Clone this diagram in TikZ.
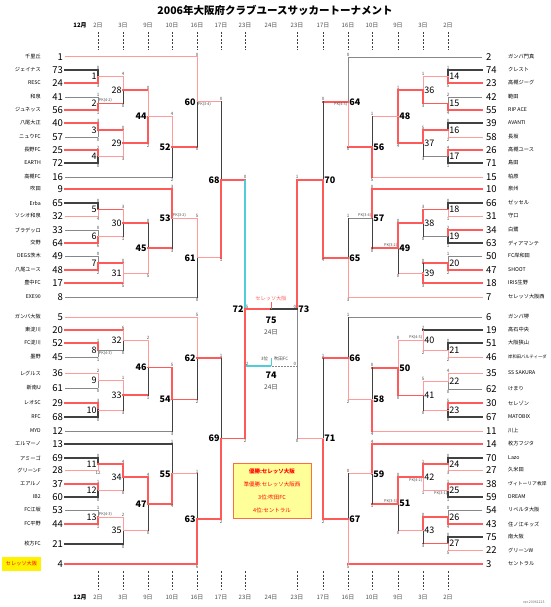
\documentclass[tikz,border=0pt]{standalone}
\usepackage{fontspec}
\setmainfont{Noto Sans CJK JP}
\usepackage{tikz}
\usetikzlibrary{positioning}

\definecolor{winred}{RGB}{255,90,90}
\definecolor{winpink}{RGB}{255,155,155}
\definecolor{losegray}{RGB}{135,135,135}
\definecolor{losedark}{RGB}{65,65,65}
\definecolor{thirdcyan}{RGB}{80,205,215}
\definecolor{boxfill}{RGB}{255,255,153}
\definecolor{boxedge}{RGB}{255,110,60}

\begin{document}
\begin{tikzpicture}[
    x=1pt, y=-1pt,
    redline/.style={draw=winred, line width=1.6pt, line cap=rect},
    pinkline/.style={draw=winpink, line width=1pt, line cap=rect},
    grayline/.style={draw=losegray, line width=0.9pt, line cap=rect},
    darkline/.style={draw=losedark, line width=1.6pt, line cap=rect},
    vdark/.style={draw=losedark, line width=1pt, line cap=rect},
    cyanline/.style={draw=thirdcyan, line width=1.1pt},
    dateline/.style={draw=black!75, dash pattern=on 2pt off 1.5pt, line width=0.6pt},
    datelbl/.style={font=\fontsize{6}{6}\selectfont, text=black!70, inner sep=0pt},
    teamname/.style={font=\fontsize{5.2}{6}\selectfont, inner sep=0pt},
    seed/.style={font=\fontsize{9.5}{10}\selectfont, inner sep=0pt},
    lnum/.style={font=\fontsize{9}{9}\selectfont, anchor=east, inner sep=1.2pt},
    rnum/.style={font=\fontsize{9}{9}\selectfont, anchor=west, inner sep=1.2pt},
    lnumb/.style={lnum, font=\fontsize{9}{9}\selectfont\bfseries},
    rnumb/.style={rnum, font=\fontsize{9}{9}\selectfont\bfseries},
    score/.style={font=\fontsize{4.5}{5}\selectfont, text=black!70, inner sep=0.7pt},
    pk/.style={font=\fontsize{3.8}{4}\selectfont, text=black!70, inner sep=0.7pt}
]
\useasboundingbox (0,0) rectangle (550,607);

% Title and dates
\node[font=\fontsize{10.5}{11}\selectfont\bfseries] (title) at (275,10) {2006年大阪府クラブユースサッカートーナメント};
\node[datelbl, text=black, font=\fontsize{6}{6}\selectfont\bfseries] (montop) at (80,25) {12月};
\node[datelbl, text=black, font=\fontsize{6}{6}\selectfont\bfseries] (monbot) at (80,597) {12月};
\foreach \x/\d in {98/2日, 123/3日, 148/9日, 172/10日, 197/16日, 221/17日, 245/23日,
                   297/23日, 323/17日, 348/16日, 372/10日, 398/9日, 423/3日, 448/2日}{
  \node[datelbl] (dt\x) at (\x,25) {\d};
  \node[datelbl] (db\x) at (\x,597) {\d};
  \draw[dateline] (\x,32) -- (\x,50);
  \draw[dateline] (\x,571) -- (\x,589);
}
\node[datelbl] (dt271) at (271,25) {24日};
\node[datelbl] (db271) at (271,597) {24日};
\node[font=\fontsize{3.5}{4}\selectfont, text=black!60, anchor=east] (ver) at (548,602) {ver.20061223};

% Columns
\foreach \c/\x in {L1/98, L2/123, L3/148, L4/172, L5/197, L6/221, L7/245,
                   R7/297, R6/323, R5/348, R4/372, R3/398, R2/423, R1/448}
  \coordinate (\c) at (\x,0);

% Left teams
\foreach \s/\y/\tn in {1/57/千里丘, 73/70/ジェイナス, 24/83/RESC, 41/97/和泉, 56/110/ジュネッス,
    40/123/八尾大正, 57/137/ニュウFC, 25/150/長野FC, 72/163/EARTH, 16/177/高槻FC, 9/189/吹田,
    65/203/Erba, 32/216/ソシオ和泉, 33/230/ブラデッロ, 64/243/交野, 49/256/DEGS茨木,
    48/270/八尾ユース, 17/283/豊中FC, 8/297/EXE90, 5/317/ガンバ大阪, 20/330/東淀川,
    52/343/FC淀川, 45/357/墨野, 36/373/レグルス, 61/388/新南U, 29/403/レオSC, 68/417/RFC,
    12/431/MYD, 13/444/エルマーノ, 69/458/アミーゴ, 28/470/グリーンF, 37/484/エアルノ,
    60/497/IB2, 53/510/FC江坂, 44/524/FC平野, 21/544/枚方FC}{
  \node[teamname, anchor=east] (ln\s) at (41,\y) {\tn};
  \node[seed, anchor=east] (ls\s) at (63,\y) {\s};
  \coordinate (t\s) at (65,\y);
}
\node[teamname, fill=yellow, text=red, minimum width=39pt, minimum height=14pt] (ln4) at (21.5,564) {セレッソ大阪};
\node[seed, anchor=east] (ls4) at (63,564) {4};
\coordinate (t4) at (65,564);

% Right teams
\foreach \s/\y/\tn in {2/57/ガンバ門真, 74/70/クレスト, 23/83/高槻ジーグ, 42/97/範田, 55/110/RIP ACE,
    39/123/AVANTI, 58/137/長坂, 26/150/高槻ユース, 71/163/島田, 15/177/柏原, 10/189/泉州,
    66/203/ゼッセル, 31/216/守口, 34/230/白鷺, 63/243/ディアマンテ, 50/256/FC岸和田,
    47/270/SHOOT, 18/283/IRIS生野, 7/297/セレッソ大阪西, 6/317/ガンバ堺, 19/330/高石中央,
    51/343/大阪狭山, 46/357/{\fontsize{4.3}{5}\selectfont 岸和田バルティーダ}, 35/373/SS SAKURA,
    62/389/けまり, 30/403/セレゾン, 67/417/MATOBIX, 11/431/川上, 14/444/枚方フジタ,
    70/458/Lazo, 27/470/久米田, 38/484/{\fontsize{4.8}{5}\selectfont ヴィトーリア枚岸}, 59/497/DREAM,
    54/510/リベルタ大阪, 43/524/住ノ江キッズ, 75/537/南大阪, 22/550/グリーンW, 3/564/セントラル}{
  \node[teamname, anchor=west] (rn\s) at (508,\y) {\tn};
  \node[seed, anchor=west] (rs\s) at (486,\y) {\s};
  \coordinate (t\s) at (482,\y);
}

% Matches: number/column/top/bottom/scores/top line+upright/bottom line+upright/label
\foreach \m/\c/\a/\b/\sa/\sb/\ca/\va/\cb/\vb/\st in {
    1/L1/t73/t24/0/3/darkline/darkline/redline/redline/lnum,
    2/L1/t41/t56/1/1/grayline/grayline/redline/redline/lnum,
    3/L1/t40/t57/3/0/redline/redline/grayline/grayline/lnum,
    4/L1/t25/t72/2/0/redline/redline/darkline/darkline/lnum,
    5/L1/t65/t32/0/4/darkline/darkline/pinkline/pinkline/lnum,
    6/L1/t33/t64/0/6/grayline/grayline/redline/redline/lnum,
    7/L1/t49/t48/0/2/grayline/grayline/redline/redline/lnum,
    8/L1/t52/t45/1/1/redline/redline/grayline/grayline/lnum,
    9/L1/t36/t61/2/0/pinkline/pinkline/grayline/grayline/lnum,
    10/L1/t29/t68/3/0/redline/redline/darkline/darkline/lnum,
    11/L1/t69/t28/0/12/darkline/darkline/pinkline/pinkline/lnum,
    12/L1/t37/t60/1/0/redline/redline/darkline/darkline/lnum,
    13/L1/t53/t44/1/1/grayline/grayline/redline/redline/lnum,
    14/R1/t74/t23/1/5/darkline/darkline/redline/redline/rnum,
    15/R1/t42/t55/2/4/grayline/grayline/redline/redline/rnum,
    16/R1/t39/t58/0/2/darkline/darkline/pinkline/pinkline/rnum,
    17/R1/t26/t71/4/1/redline/redline/darkline/darkline/rnum,
    18/R1/t66/t31/0/1/darkline/darkline/pinkline/pinkline/rnum,
    19/R1/t34/t63/2/1/redline/redline/darkline/darkline/rnum,
    20/R1/t50/t47/1/2/grayline/grayline/redline/redline/rnum,
    21/R1/t51/t46/0/2/darkline/darkline/pinkline/pinkline/rnum,
    22/R1/t35/t62/4/0/pinkline/pinkline/grayline/grayline/rnum,
    23/R1/t30/t67/5/0/redline/redline/darkline/darkline/rnum,
    24/R1/t70/t27/0/3/darkline/darkline/pinkline/pinkline/rnum,
    25/R1/t38/t59/1/1/redline/redline/darkline/darkline/rnum,
    26/R1/t54/t43/0/4/grayline/grayline/redline/redline/rnum,
    27/R1/t75/t22/0/5/darkline/darkline/pinkline/pinkline/rnum,
    28/L2/m1/m2/4/0/pinkline/pinkline/redline/vdark/lnum,
    29/L2/m3/m4/0/3/redline/pinkline/pinkline/pinkline/lnum,
    30/L2/m5/m6/3/1/redline/pinkline/pinkline/vdark/lnum,
    31/L2/m7/t17/0/5/redline/pinkline/redline/pinkline/lnum,
    32/L2/t20/m8/6/0/redline/pinkline/grayline/vdark/lnum,
    33/L2/m9/m10/1/3/pinkline/pinkline/pinkline/vdark/lnum,
    34/L2/m11/m12/4/0/redline/redline/pinkline/vdark/lnum,
    35/L2/m13/t21/2/0/pinkline/pinkline/darkline/vdark/lnum,
    36/R2/m14/m15/1/3/pinkline/pinkline/redline/redline/rnum,
    37/R2/m16/m17/5/3/redline/redline/grayline/vdark/rnum,
    38/R2/m18/m19/3/0/redline/redline/grayline/vdark/rnum,
    39/R2/m20/t18/0/3/redline/vdark/redline/redline/rnum,
    40/R2/t19/m21/2/2/darkline/pinkline/pinkline/pinkline/rnum,
    41/R2/m22/m23/5/0/pinkline/pinkline/pinkline/vdark/rnum,
    42/R2/m24/m25/1/1/redline/redline/pinkline/pinkline/rnum,
    43/R2/m26/m27/0/3/redline/redline/redline/vdark/rnum,
    44/L3/m28/m29/0/2/redline/pinkline/redline/redline/lnumb,
    45/L3/m30/m31/0/5/redline/vdark/pinkline/pinkline/lnumb,
    46/L3/m32/m33/2/1/pinkline/pinkline/redline/vdark/lnumb,
    47/L3/m34/m35/4/0/redline/redline/pinkline/vdark/lnumb,
    48/R3/m36/m37/1/4/redline/redline/redline/redline/rnumb,
    49/R3/m38/m39/0/0/redline/redline/pinkline/vdark/rnumb,
    50/R3/m40/m41/0/0/pinkline/pinkline/redline/redline/rnumb,
    51/R3/m42/m43/0/0/redline/redline/pinkline/vdark/rnumb,
    52/L4/m44/t16/4/2/pinkline/pinkline/grayline/vdark/lnumb,
    53/L4/t9/m45/3/3/redline/redline/redline/vdark/lnumb,
    54/L4/m46/t12/5/3/redline/redline/grayline/vdark/lnumb,
    55/L4/t13/m47/1/4/darkline/vdark/redline/redline/lnumb,
    56/R4/m48/t15/1/5/pinkline/vdark/pinkline/redline/rnumb,
    57/R4/t10/m49/0/0/redline/redline/redline/vdark/rnumb,
    58/R4/m50/t11/0/4/redline/vdark/pinkline/redline/rnumb,
    59/R4/t14/m51/4/1/redline/redline/redline/vdark/rnumb,
    60/L5/t1/m52/0/0/pinkline/pinkline/redline/vdark/lnumb,
    61/L5/m53/t8/5/0/pinkline/pinkline/grayline/vdark/lnumb,
    62/L5/t5/m54/5/2/pinkline/pinkline/redline/vdark/lnumb,
    63/L5/m55/t4/1/6/pinkline/vdark/redline/redline/lnumb,
    64/R5/t2/m56/0/0/grayline/grayline/redline/pinkline/rnumb,
    65/R5/m57/t7/1/3/grayline/vdark/pinkline/pinkline/rnumb,
    66/R5/t6/m58/1/2/grayline/vdark/pinkline/pinkline/rnumb,
    67/R5/m59/t3/0/5/pinkline/vdark/redline/pinkline/rnumb,
    68/L6/m60/m61/0/1/pinkline/vdark/pinkline/redline/lnumb,
    69/L6/m62/m63/1/2/redline/vdark/redline/redline/lnumb,
    70/R6/m64/m65/0/4/redline/vdark/redline/redline/rnumb,
    71/R6/m66/m67/1/2/redline/vdark/redline/redline/rnumb}{
  \path (\a) -- (\b) coordinate[midway] (h\m);
  \coordinate (m\m) at (h\m -| \c);
  \draw[\ca] (\a) -- (\a -| m\m);
  \draw[\va] (\a -| m\m) -- (m\m);
  \draw[\cb] (\b) -- (\b -| m\m);
  \draw[\vb] (\b -| m\m) -- (m\m);
  \node[\st] (n\m) at (m\m) {\m};
  \node[score, above] (p\m) at (\a -| m\m) {\sa};
  \node[score, below] (q\m) at (\b -| m\m) {\sb};
}

% PK notes
\node[pk, anchor=south west] (pk2) at (m2) {PK(4-2)};
\node[pk, anchor=north west] (pk8) at (m8) {PK(4-3)};
\node[pk, anchor=south west] (pk13) at (m13) {PK(4-3)};
\node[pk, anchor=south west] (pk53) at (m53) {PK(3-2)};
\node[pk, anchor=north west] (pk60) at (m60) {PK(3-4)};
\node[pk, anchor=north east] (pk25) at (m25) {PK(3-1)};
\node[pk, anchor=south east] (pk40) at (m40) {PK(4-3)};
\node[pk, anchor=north east] (pk42) at (m42) {PK(4-2)};
\node[pk, anchor=south east] (pk49) at (m49) {PK(3-2)};
\node[pk, anchor=south east] (pk51) at (m51) {PK(3-3)};
\node[pk, anchor=south east] (pk57) at (m57) {PK(3-4)};
\node[pk, anchor=north east] (pk64) at (m64) {PK(4-3)};

% Semi-finals
\path (m68) -- (m69) coordinate[midway] (h72);
\coordinate (m72) at (h72 -| L7);
\path (m70) -- (m71) coordinate[midway] (h73);
\coordinate (m73) at (h73 -| R7);
\coordinate (m75) at (271,0 |- m72);
\coordinate (m74) at (271,366);
\coordinate (e74l) at (m74 -| L7);
\coordinate (e74r) at (m74 -| R7);

\draw[redline] (m68) -- (m68 -| L7);
\draw[cyanline] (m68 -| L7) -- (e74l) -- (m74);
\draw[redline] (m69) -| (m72) -- (m75);
\draw[redline] (m70) -| (m73);
\draw[pinkline] (m71) -- (m71 -| R7);
\draw[grayline] (m71 -| R7) -- (m73);
\draw[grayline, dotted] (e74r) -- (m74);
\draw[darkline] (m73) -- (m75);

\node[lnumb] (n72) at (m72) {72};
\node[rnumb] (n73) at (m73) {73};
\node[score, above] (p72) at (m68 -| L7) {0};
\node[score, below] (q72) at (m69 -| L7) {2};
\node[score, above] (p73) at (m70 -| R7) {1};
\node[score, below] (q73) at (m71 -| R7) {0};

% Final and third place
\draw[winred, line width=0.8pt] (m75) -- ++(0,-7);
\node[teamname, text=winred, anchor=south] (champ) at (271,301) {セレッソ大阪};
\node[score, anchor=south west] (p75) at (m72) {5};
\node[score, anchor=south east] (q75) at (m73) {0};
\node[font=\fontsize{9}{9}\selectfont\bfseries] (n75) at (271,320) {75};
\node[datelbl, font=\fontsize{6.5}{7}\selectfont] (d75) at (271,332) {24日};

\draw[thirdcyan, line width=0.8pt] (m74) -- ++(0,-8);
\node[score, anchor=east] (third1) at (269,359) {3位};
\node[score, anchor=west] (third2) at (273,359) {吹田FC};
\node[score, anchor=south west] (p74) at (e74l) {2};
\node[score, anchor=south east] (q74) at (e74r) {0};
\node[font=\fontsize{9}{9}\selectfont\bfseries] (n74) at (271,375) {74};
\node[datelbl, font=\fontsize{6.5}{7}\selectfont] (d74) at (271,387) {24日};

% Result box
\node[draw=boxedge, fill=boxfill, line width=1pt, minimum width=78pt, minimum height=55pt,
      text=red, align=center, font=\fontsize{5.5}{13}\selectfont] (result) at (272,490.5)
      {\textbf{優勝:セレッソ大阪}\\準優勝:セレッソ大阪西\\3位:吹田FC\\4位:セントラル};

\end{tikzpicture}
\end{document}
